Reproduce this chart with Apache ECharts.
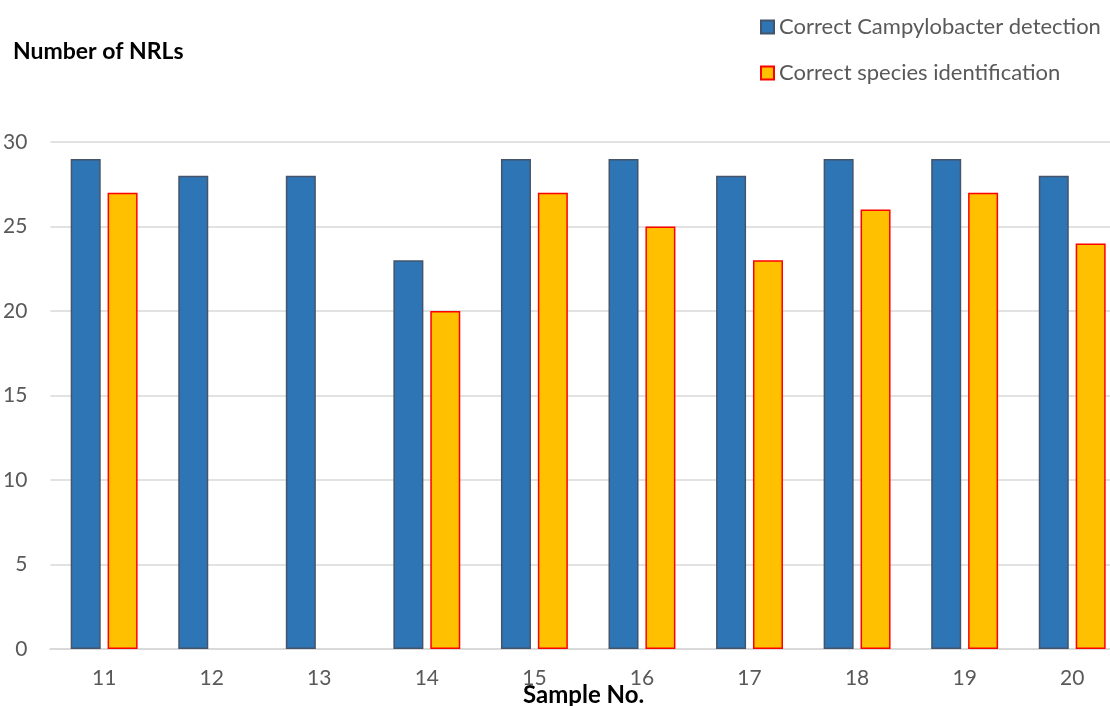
<!DOCTYPE html>
<html>
<head>
<meta charset="utf-8">
<script src="https://cdn.jsdelivr.net/npm/echarts@6/dist/echarts.min.js"></script>
<style>
  html, body { margin: 0; padding: 0; background: #fff; overflow: hidden; }
  #box { width: 1126px; height: 706px; }
</style>
</head>
<body>
<div id="box"></div>
<script>
// sample numbers along the x axis
const samples = ["11", "12", "13", "14", "15", "16", "17", "18", "19", "20"];
// correct Campylobacter detection
const detection = [29, 28, 28, 23, 29, 29, 28, 29, 29, 28];
// correct species identification (no bar for 12 and 13)
const species = [27, null, null, 20, 27, 25, 23, 26, 27, 24];

const font = "Lato, 'Open Sans', sans-serif";

// the plot runs a little past the right edge of the window, as in the original
let myChart = echarts.init(document.getElementById("box"));
let option = {
  animation: false,
  textStyle: { fontFamily: font },
  grid: { left: 50, right: 0, top: 142, bottom: 57 },
  legend: [
    {
      left: 755, top: 11, itemWidth: 13, itemHeight: 13, itemGap: 8,
      textStyle: { fontFamily: font, fontSize: 22, color: "#595959" },
      data: [{ name: "Correct Campylobacter detection", icon: "rect" }]
    },
    {
      left: 755, top: 57, itemWidth: 13, itemHeight: 13, itemGap: 8,
      textStyle: { fontFamily: font, fontSize: 22, color: "#595959" },
      data: [{ name: "Correct species identification", icon: "rect" }]
    }
  ],
  graphic: [
    {
      type: "text", left: 13, top: 40,
      style: { text: "Number of NRLs", font: "bold 23px " + font, fill: "#000" }
    },
    {
      type: "text", left: 523, top: 683,
      style: { text: "Sample No.", font: "bold 24px " + font, fill: "#000" }
    }
  ],
  xAxis: {
    type: "category",
    data: samples,
    axisLine: { lineStyle: { color: "#D9D9D9", width: 2 } },
    axisTick: { show: false },
    axisLabel: { color: "#595959", fontSize: 21, margin: 19 }
  },
  yAxis: {
    type: "value",
    min: 0, max: 30, interval: 5,
    axisLabel: { color: "#595959", fontSize: 21, margin: 23 },
    splitLine: { lineStyle: { color: "#D9D9D9", width: 1.5 } }
  },
  series: [
    {
      name: "Correct Campylobacter detection",
      type: "bar",
      data: detection,
      barWidth: 30,
      barGap: "23%",
      itemStyle: { color: "#2E75B6", borderColor: "#44546A", borderWidth: 1.5 }
    },
    {
      name: "Correct species identification",
      type: "bar",
      data: species,
      barWidth: 30,
      itemStyle: { color: "#FFC000", borderColor: "#FF0000", borderWidth: 1.5 }
    }
  ]
};
myChart.setOption(option);
</script>
</body>
</html>
